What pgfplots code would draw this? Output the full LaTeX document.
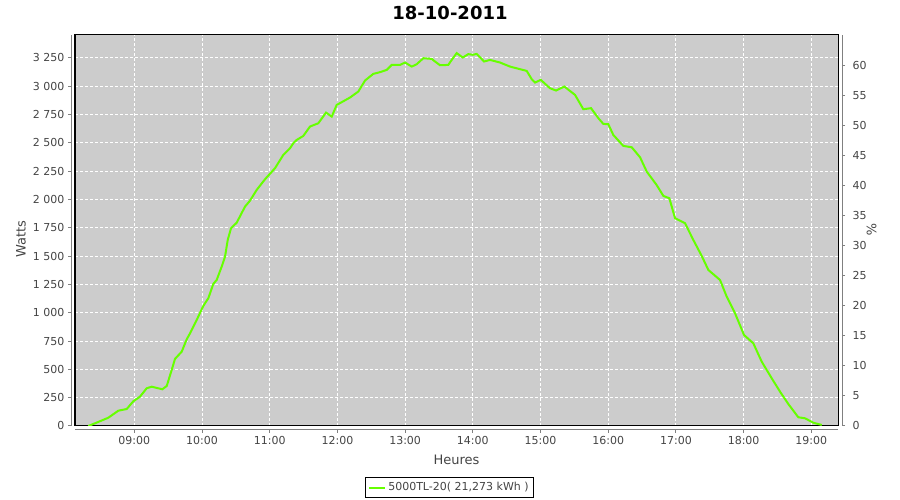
\documentclass[border=0pt]{standalone}
\usepackage{fontspec}
\setmainfont{DejaVu Sans}
\usepackage{pgfplots}
\usepackage{pgfplotstable}
\pgfplotsset{compat=1.18}
\definecolor{plotbg}{RGB}{204,204,204}
\definecolor{axgray}{RGB}{128,128,128}
\definecolor{txt}{RGB}{68,68,68}
\definecolor{sgreen}{RGB}{102,255,0}

\pgfplotstableread{
h W
8.321 0
8.420 24
8.616 73
8.764 135
8.888 150
8.985 218
9.084 259
9.183 333
9.257 347
9.414 324
9.479 353
9.552 494
9.601 592
9.700 656
9.774 765
9.823 818
9.922 936
10.019 1060
10.093 1127
10.167 1254
10.217 1289
10.291 1407
10.340 1495
10.380 1642
10.428 1745
10.513 1795
10.635 1936
10.709 1989
10.808 2084
10.931 2178
11.078 2275
11.201 2393
11.300 2452
11.349 2496
11.399 2525
11.496 2560
11.595 2643
11.718 2672
11.832 2766
11.916 2731
11.990 2834
12.063 2858
12.186 2899
12.309 2952
12.408 3049
12.530 3108
12.629 3123
12.728 3143
12.802 3187
12.925 3187
12.999 3208
13.098 3172
13.171 3193
13.269 3246
13.393 3240
13.442 3217
13.516 3184
13.638 3187
13.688 3231
13.762 3291
13.851 3252
13.934 3282
14.000 3276
14.058 3284
14.166 3217
14.254 3231
14.402 3208
14.550 3172
14.796 3134
14.870 3061
14.919 3031
15.003 3055
15.140 2981
15.229 2961
15.352 2996
15.510 2922
15.632 2796
15.746 2805
15.854 2717
15.928 2666
16.001 2664
16.075 2569
16.223 2472
16.347 2460
16.470 2372
16.569 2245
16.714 2128
16.814 2031
16.903 2010
16.987 1834
17.134 1790
17.257 1642
17.381 1501
17.479 1377
17.651 1289
17.750 1142
17.873 995
18.006 803
18.143 730
18.267 568
18.415 421
18.538 303
18.660 194
18.808 77
18.907 68
19.030 29
19.154 9
}\power

\pgfplotsset{
  base/.style={scale only axis, width=763pt, height=391pt, anchor=south west,
    /pgf/number format/assume math mode=true,
    ticklabel style={font=\fontsize{11}{13}\selectfont, text=txt},
    label style={font=\fontsize{13}{15}\selectfont, text=txt},
    tick style={axgray, line width=1pt}, major tick length=3pt, tick align=outside,
    axis line style={axgray, line width=1pt}},
}

\begin{document}
\begin{tikzpicture}
\useasboundingbox (0,0) rectangle (900pt,500pt);

% main data area
\begin{axis}[base, at={(75pt,74pt)},
  xmin=8.124, xmax=19.394, ymin=0, ymax=3451,
  axis background/.style={fill=plotbg},
  axis line style={black, line width=1pt},
  xtick={9,...,19}, ytick={250,500,...,3250},
  xticklabel={\relax}, yticklabel={\relax}, major tick length=0pt,
  grid=major, grid style={white, line width=1pt, dash pattern=on 3pt off 2pt},
  title={18-10-2011},
  title style={font=\bfseries\fontsize{18}{20}\selectfont, text=black,
    at={(axis description cs:0.5,1)}, anchor=center, xshift=-6.5pt, yshift=15.7pt},
  legend style={at={(axis description cs:0.4908,-0.1573)}, anchor=center,
    draw=black, line width=0.8pt, fill=white, font=\fontsize{11}{13}\selectfont,
    text=txt, inner xsep=2.5pt, inner ysep=3pt},
  legend image code/.code={\draw[#1] (0pt,0pt) -- (16pt,0pt);},
]
\addplot[sgreen, line width=2pt] table[x=h, y=W] {\power};
\addlegendentry{5000TL-20( 21,273 kWh )}
\end{axis}

% left axis (Watts)
\begin{axis}[base, at={(71pt,74pt)},
  xmin=0, xmax=1, ymin=0, ymax=3451,
  hide x axis, axis y line*=left,
  ytick={0,250,...,3250},
  yticklabels={0,250,500,750,1 000,1 250,1 500,1 750,2 000,2 250,2 500,2 750,3 000,3 250},
  ylabel={Watts},
  ylabel style={at={(axis description cs:-0.0655,0.4783)}, anchor=center},
]
\end{axis}

% right axis (%)
\begin{axis}[base, at={(79pt,74pt)},
  xmin=0, xmax=1, ymin=0, ymax=65.1,
  hide x axis, axis y line*=right,
  ytick={0,5,...,60},
  yticklabel style={xshift=4pt},
  ylabel={\%},
  ylabel style={at={(axis description cs:1.0389,0.5013)}, anchor=center, rotate=180},
]
\end{axis}

% bottom axis (Heures)
\begin{axis}[base, at={(75pt,70pt)},
  xmin=8.124, xmax=19.394, ymin=0, ymax=1,
  hide y axis, axis x line*=bottom,
  xtick={9,...,19},
  xticklabels={09:00,10:00,11:00,12:00,13:00,14:00,15:00,16:00,17:00,18:00,19:00},
  xlabel={Heures},
  xlabel style={at={(axis description cs:0.5,-0.0767)}, anchor=center},
]
\end{axis}
\end{tikzpicture}
\end{document}
